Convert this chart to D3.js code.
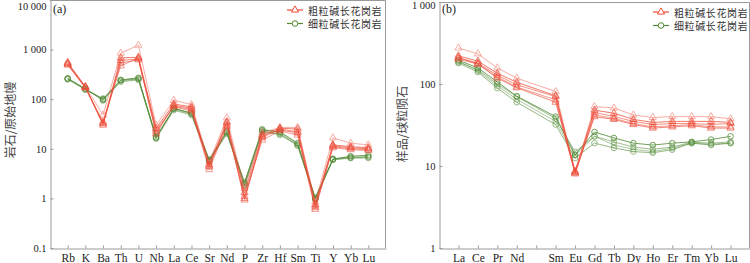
<!DOCTYPE html>
<html><head><meta charset="utf-8">
<script src="https://cdn.jsdelivr.net/npm/d3@7"></script>
<style>body{margin:0;background:#fff} svg{display:block}</style>
</head><body><svg id="c" width="750" height="263"></svg>
<script>
// ---------- data ----------
const seriesNames = ["粗粒碱长花岗岩", "细粒碱长花岗岩"];

const spiderElements = ["Rb","K","Ba","Th","U","Nb","La","Ce","Sr","Nd","P","Zr","Hf","Sm","Ti","Y","Yb","Lu"];
const spiderCoarse = [
  [560,180,48,850,1230,30,95,78,5.4,42,1.6,21,27,27,0.85,16.6,13,12],
  [520,175,33,680,700,26,80,70,4.8,35,1.3,19,26,25,0.75,12,11,10.5],
  [490,170,32,540,620,22,72,62,4.3,30,0.93,17,25,22,0.65,11,10,9.6],
  [500,172,35,470,680,24,70,58,3.8,28,1.1,15,23,19,0.6,10.5,9.6,9.2],
  [540,178,30,600,650,20,75,66,4.5,33,1.0,18,24,21,0.7,11.5,10.5,10]
];
const spiderFine = [
  [257,160,100,245,270,17,66,52,5.9,22,2.1,24,22,13,1.0,6.2,7.1,7.4],
  [265,165,94,225,245,16,60,48,5.6,20,1.9,23,19,12,0.95,6.0,6.5,6.5],
  [250,155,104,235,255,18,63,50,6.2,23,2.0,25,21,12.5,1.05,6.3,6.8,7.0],
  [260,158,97,240,260,16.5,64,53,5.8,21,1.8,22,20,11.5,0.98,6.1,6.6,6.8]
];
const spiderYTicks = [0.1, 1, 10, 100, 1000, 10000];
const spiderYLabels = ["0.1", "1", "10", "100", "1 000", "10 000"];

const reeElements = ["La","Ce","Pr","Nd","Pm","Sm","Eu","Gd","Tb","Dy","Ho","Er","Tm","Yb","Lu"];
const reeTickLabels = ["La","Ce","Pr","Nd","","Sm","Eu","Gd","Tb","Dy","Ho","Er","Tm","Yb","Lu"];
const reeCoarse = [
  [275,233,157,118,null,81,8.5,53,51,42,39,40,40,40,37.6],
  [220,190,135,105,null,72,8.6,48,44,37,34,35,35,35,34],
  [208,180,128,98,null,70,8.3,45,40,35,32,33,33,32,33],
  [200,175,122,92,null,64,8.0,42,38,33,30,31,32,30,30],
  [210,175,118,90,null,60,8.2,40,37,32,29,30,31,29,29]
];
const reeFine = [
  [195,157,106,71,null,40,13.7,26,22,19,18,19,19.7,21,23],
  [185,150,100,70,null,38,14.9,23,19.7,17,16,17,19.5,19,19.7],
  [190,145,95,65,null,35,13.5,23,18,16,15,16.5,19,18.5,19],
  [180,140,89,60,null,32,12.5,19,16.6,15,14.5,15.8,19,18,19]
];
const reeYTicks = [1, 10, 100, 1000];
const reeYLabels = ["1", "10", "100", "1 000"];

// ---------- styles ----------
const RED = "#ee4a36", GREEN = "#4f8a33", AXIS = "#9a9a9a", TXT = "#222";
const coarseOpac = [0.45, 0.75, 0.6, 0.55, 0.65];
const fineOpac = [0.8, 0.55, 0.45, 0.6];

const svg = d3.select("#c");

function panel(cfg) {
  const g = svg.append("g");
  const n = cfg.elements.length;
  const x = d3.scaleLinear().domain([0, n + 1]).range([cfg.left, cfg.right]);
  const y = d3.scaleLog().domain([cfg.yTicks[0], cfg.yTicks[cfg.yTicks.length - 1]]).range([cfg.bottom, cfg.top]);

  // frame (top & right)
  g.append("path")
    .attr("d", `M${cfg.left},${cfg.top + 0.5}H${cfg.right - 0.5}V${cfg.bottom}`)
    .attr("fill", "none").attr("stroke", AXIS).attr("stroke-width", 1);

  const ya = g.append("g").attr("transform", `translate(${cfg.left + 0.5},0)`)
    .call(d3.axisLeft(y).tickValues(cfg.yTicks).tickFormat((d, i) => cfg.yLabels[i])
      .tickSizeInner(-3).tickSizeOuter(0).tickPadding(4));
  const xa = g.append("g").attr("transform", `translate(0,${cfg.bottom + 0.5})`)
    .call(d3.axisBottom(x).tickValues(d3.range(1, n + 1)).tickFormat(i => cfg.tickLabels[i - 1])
      .tickSizeInner(-3).tickSizeOuter(0).tickPadding(5));
  [ya, xa].forEach(a => {
    a.select(".domain").attr("stroke", AXIS);
    a.selectAll(".tick line").attr("stroke", AXIS);
    a.selectAll("text").attr("fill", TXT).attr("font-family", "Liberation Serif, Times New Roman, serif");
  });
  ya.selectAll("text").attr("font-size", 10.5);
  xa.selectAll("text").attr("font-size", 11.5);
  // keep the top label visible
  ya.selectAll(".tick").filter(d => d === cfg.yTicks[cfg.yTicks.length - 1])
    .select("text").attr("dy", cfg.topDy);

  const line = d3.line().x(d => x(d.i + 1)).y(d => y(d.v));
  const triangle = d3.symbol().type(d3.symbolTriangle).size(22);

  function drawGroup(rows, color, opac, kind) {
    rows.forEach((row, k) => {
      const pts = row.map((v, i) => ({ i, v })).filter(d => d.v != null);
      const sg = g.append("g").attr("opacity", opac[k]);
      sg.append("path").attr("d", line(pts)).attr("fill", "none")
        .attr("stroke", color).attr("stroke-width", 1);
      if (kind === "tri") {
        sg.selectAll("path.m").data(pts).join("path").attr("class", "m")
          .attr("d", triangle).attr("transform", d => `translate(${x(d.i + 1)},${y(d.v)})`)
          .attr("fill", "none").attr("stroke", color).attr("stroke-width", 1);
      } else {
        sg.selectAll("circle").data(pts).join("circle")
          .attr("cx", d => x(d.i + 1)).attr("cy", d => y(d.v)).attr("r", 2.8)
          .attr("fill", "none").attr("stroke", color).attr("stroke-width", 1);
      }
    });
  }
  drawGroup(cfg.fine, GREEN, fineOpac, "circ");
  drawGroup(cfg.coarse, RED, coarseOpac, "tri");

  // panel label
  g.append("text").attr("x", cfg.left + 3).attr("y", cfg.top + cfg.tagY).text(cfg.tag)
    .attr("font-family", "Liberation Serif, serif").attr("font-size", 12).attr("fill", TXT);

  // y title
  g.append("text").attr("transform", `translate(${cfg.titleX},${cfg.titleY}) rotate(-90)`)
    .attr("text-anchor", "middle").attr("dominant-baseline", "central")
    .attr("font-family", "Noto Sans CJK SC, sans-serif").attr("font-size", 12)
    .attr("fill", "#444").text(cfg.title);

  // legend
  const lg = g.append("g").attr("transform", `translate(${cfg.legX},${cfg.legY})`);
  [[RED, "tri"], [GREEN, "circ"]].forEach(([c, kind], r) => {
    const row = lg.append("g").attr("transform", `translate(0,${r * 13.5})`);
    row.append("line").attr("x1", 0).attr("x2", 16).attr("y1", 0).attr("y2", 0)
      .attr("stroke", c).attr("stroke-width", 1.2);
    if (kind === "tri") row.append("path").attr("d", triangle()).attr("transform", "translate(8,0)")
      .attr("fill", "#fff").attr("stroke", c).attr("stroke-width", 1);
    else row.append("circle").attr("cx", 8).attr("cy", 0).attr("r", 2.8)
      .attr("fill", "#fff").attr("stroke", c).attr("stroke-width", 1);
    row.append("text").attr("x", 21).attr("y", 0).attr("dominant-baseline", "central")
      .attr("font-family", "Noto Sans CJK SC, sans-serif").attr("font-size", 10)
      .attr("letter-spacing", 0.6).attr("fill", "#333").text(seriesNames[r]);
  });
}

panel({
  elements: spiderElements, tickLabels: spiderElements,
  coarse: spiderCoarse, fine: spiderFine,
  yTicks: spiderYTicks, yLabels: spiderYLabels,
  left: 50, right: 386, top: 0, bottom: 248, topDy: "0.95em",
  tag: "(a)", tagY: 13, title: "岩石/原始地幔", titleX: 9, titleY: 120,
  legX: 287, legY: 10
});
panel({
  elements: reeElements, tickLabels: reeTickLabels,
  coarse: reeCoarse, fine: reeFine,
  yTicks: reeYTicks, yLabels: reeYLabels,
  left: 439, right: 750, top: 2, bottom: 248, topDy: "0.6em",
  tag: "(b)", tagY: 11, title: "样品/球粒陨石", titleX: 401, titleY: 124,
  legX: 653, legY: 12
});
</script></body></html>
